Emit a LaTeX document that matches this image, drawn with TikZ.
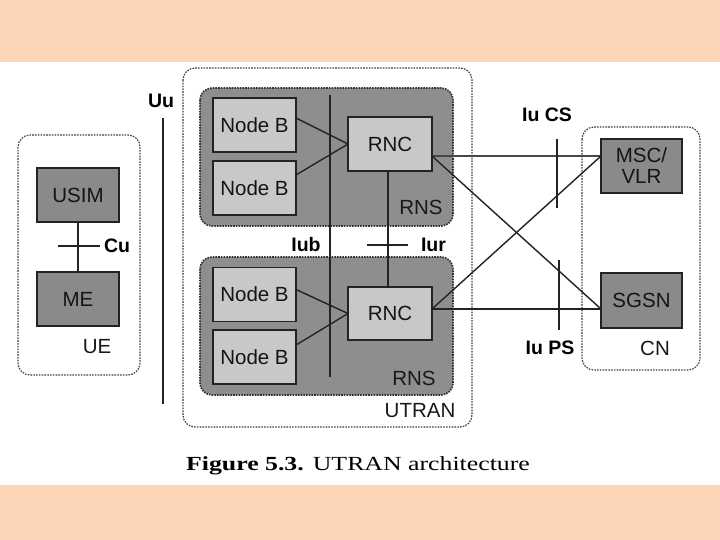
\documentclass[tikz,border=0pt]{standalone}
\usepackage{fontspec}
\setmainfont{Liberation Sans}
\newfontfamily\capfont{Liberation Serif}
\usetikzlibrary{calc}
\definecolor{peach}{RGB}{252,214,182}
\definecolor{rnsgray}{RGB}{142,142,142}
\definecolor{lightbox}{RGB}{200,200,200}
\definecolor{darkbox}{RGB}{138,138,138}
\definecolor{edge}{RGB}{35,35,35}
\begin{document}
\begin{tikzpicture}[x=1pt,y=-1pt,
  every node/.style={inner sep=0pt,outer sep=0pt},
  lbl/.style={font=\fontsize{20.5}{22}\selectfont,text=black!90},
  blbl/.style={font=\fontsize{19.5}{21}\selectfont\bfseries,text=black},
  light/.style={draw=edge,line width=1.8pt,fill=lightbox,minimum width=83pt,minimum height=54pt,font=\fontsize{20.5}{22}\selectfont,text=black!92},
  dark/.style={draw=edge,line width=1.8pt,fill=darkbox,minimum width=82pt,minimum height=54pt,font=\fontsize{20.5}{22}\selectfont,text=black!92},
  zonebox/.style={draw=black!75,line width=1.2pt,dash pattern=on 1.6pt off 1.2pt,rounded corners=12pt},
  rnsbox/.style={draw=black!80,line width=1.7pt,dash pattern=on 1.6pt off 1.1pt,fill=rnsgray,rounded corners=12pt},
  link/.style={draw=edge,line width=1.4pt},
  bar/.style={draw=edge,line width=1.8pt}
]
\useasboundingbox (0,0) rectangle (720,540);
% background
\fill[white] (0,0) rectangle (720,540);
\fill[peach] (0,0) rectangle (720,62);
\fill[peach] (0,485) rectangle (720,540);

% zones
\draw[zonebox] (18,135) rectangle (140,375);
\draw[zonebox] (183,68) rectangle (472,427);
\draw[zonebox] (582,127) rectangle (700,370);
\draw[rnsbox] (200,88) rectangle (453,226);
\draw[rnsbox] (200,257) rectangle (453,395);

% UE
\node[dark] (usim) at (78,195) {USIM};
\node[dark] (me) at (78,299) {ME};
\draw[link] (usim.south) -- (me.north);
\coordinate (cul) at (58,246);
\coordinate (cur) at (100,246);
\draw[link] (cul) -- (cur);
\node[blbl,anchor=west] (cu) at (104,246) {Cu};
\node[lbl] (ue) at (97,347) {UE};

% Uu
\coordinate (uut) at (163,118);
\coordinate (uub) at (163,404);
\draw[bar] (uut) -- (uub);
\node[blbl] (uu) at (161,101) {Uu};

% UTRAN
\node[light] (nb1) at (254.5,125) {Node B};
\node[light] (nb2) at (254.5,188) {Node B};
\node[light] (nb3) at (254.5,294.5) {Node B};
\node[light] (nb4) at (254.5,357) {Node B};
\node[light,minimum width=84pt] (rnc1) at (390,144) {RNC};
\node[light,minimum width=84pt,minimum height=53pt] (rnc2) at (390,313.5) {RNC};

\coordinate (iubt) at (330,95);
\coordinate (iubb) at (330,377);
\draw[bar] (iubt) -- (iubb);
\node[blbl] (iub) at (306,245) {Iub};

\draw[link] ([yshift=7pt]nb1.east) -- (rnc1.west);
\draw[link] ([yshift=13pt]nb2.east) -- (rnc1.west);
\draw[link] ([yshift=5pt]nb3.east) -- (rnc2.west);
\draw[link] ([yshift=12pt]nb4.east) -- (rnc2.west);

\draw[link] ([xshift=-2pt]rnc1.south) -- ([xshift=-2pt]rnc2.north);
\coordinate (iurl) at (367,245);
\coordinate (iurr) at (408,245);
\draw[link] (iurl) -- (iurr);
\node[blbl,anchor=west] (iur) at (421,245) {Iur};

\node[lbl] (rnsa) at (421,207) {RNS};
\node[lbl] (rnsb) at (414,378) {RNS};
\node[lbl] (utran) at (420,411) {UTRAN};

% CN
\node[dark,minimum width=81pt,align=center,font=\fontsize{20.5}{21}\selectfont] (msc) at (641.5,166) {MSC/\\VLR};
\node[dark,minimum width=81pt,minimum height=55pt] (sgsn) at (641.5,300.5) {SGSN};
\node[lbl] (cn) at (655,348) {CN};

\draw[link,line width=2.2pt,draw=black!72] ([yshift=-12pt]rnc1.east) -- ([yshift=10pt]msc.west);
\draw[link] ([yshift=-12pt]rnc1.east) -- ([yshift=-8.5pt]sgsn.west);
\draw[link] ([yshift=4.5pt]rnc2.east) -- ([yshift=10pt]msc.west);
\draw[link] ([yshift=4.5pt]rnc2.east) -- ([yshift=-8.5pt]sgsn.west);

\coordinate (cst) at (557,139);
\coordinate (csb) at (557,208);
\draw[bar] (cst) -- (csb);
\node[blbl] (iucs) at (547,115) {Iu CS};
\coordinate (pst) at (559,260);
\coordinate (psb) at (559,330);
\draw[link] (pst) -- (psb);
\node[blbl] (iups) at (550,348) {Iu PS};

% caption
\node (cap) at (358,466) {\scalebox{1.29}[1]{\capfont\fontsize{20}{22}\selectfont\textbf{Figure 5.3.}\hspace{0.35em}UTRAN architecture}};
\end{tikzpicture}
\end{document}
